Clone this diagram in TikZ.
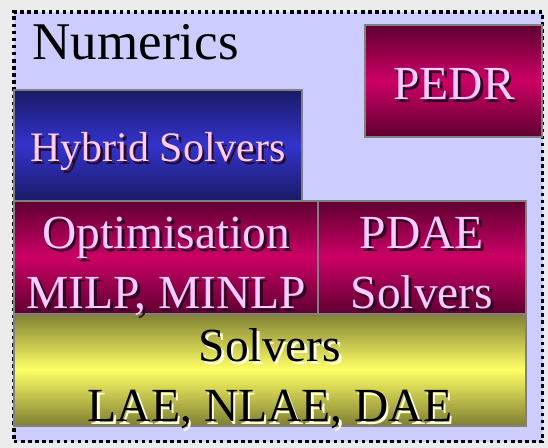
\documentclass[tikz,border=0pt]{standalone}
\usepackage{fontspec}
\setmainfont{Liberation Serif}
\newfontfamily\tms{Liberation Serif}
\definecolor{bgout}{HTML}{EBEBEB}
\definecolor{lav}{HTML}{CCCCFF}
\definecolor{edgegray}{HTML}{808080}
\definecolor{magdark}{HTML}{5E0030}
\definecolor{magmid}{HTML}{CC0066}
\definecolor{bluedark}{HTML}{1A1A66}
\definecolor{bluemid}{HTML}{3333CC}
\definecolor{yeldark}{HTML}{7F7F33}
\definecolor{yelmid}{HTML}{FFFF66}
\definecolor{pinktext}{HTML}{FFCCFF}
\definecolor{darkshadow}{HTML}{2A0A20}
\definecolor{lightshadow}{HTML}{FFFFE0}
\newcommand\shtxt[3]{\makebox[0pt][l]{\hspace*{2.5bp}\raisebox{-2.5bp}{\textcolor{#2}{#3}}}\textcolor{#1}{#3}}
\tikzset{
  box/.style={draw=edgegray, line width=2bp, inner sep=0pt, rectangle},
  magbox/.style={box, top color=magdark, bottom color=magdark, middle color=magmid},
  bluebox/.style={box, top color=bluedark, bottom color=bluedark, middle color=bluemid},
  yelbox/.style={box, top color=yeldark, bottom color=yeldark, middle color=yelmid},
  lbl/.style={anchor=base, inner sep=0pt, font=\tms\fontsize{47.5bp}{57bp}\selectfont},
  frame/.style={draw=black, fill=lav, line width=3.5bp, dash pattern=on 3.5bp off 3.6bp}
}
\begin{document}
\begin{tikzpicture}[x=1bp,y=-1bp]
\useasboundingbox[fill=bgout] (0,0) rectangle (548,448);
\node[frame, minimum width=528.5bp, minimum height=429.5bp, inner sep=0pt] (frame) at (278.25,226.75) {};
\node[bluebox, minimum width=287.5bp, minimum height=111bp] (hybrid) at (158.25,145.5) {};
\node[magbox, minimum width=177bp, minimum height=112bp] (pedr) at (453.5,81) {};
\node[magbox, minimum width=303.5bp, minimum height=112.5bp] (optim) at (166.25,257.25) {};
\node[magbox, minimum width=208bp, minimum height=112.5bp] (pdae) at (422,257.25) {};
\node[yelbox, minimum width=511.5bp, minimum height=112bp] (solvers) at (270.25,369.5) {};
\node[anchor=base west, inner sep=0pt, font=\tms\fontsize{53bp}{60bp}\selectfont] (numT) at (32.5,60) {Numerics};
\node[lbl] (pedrT) at (454,100) {\shtxt{pinktext}{darkshadow}{PEDR}};
\node[lbl, font=\tms\fontsize{42bp}{50bp}\selectfont] (hybT) at (158,161.7) {\shtxt{pinktext}{darkshadow}{Hybrid Solvers}};
\node[lbl] (optA) at (166.4,249) {\shtxt{pinktext}{darkshadow}{Optimisation}};
\node[lbl] (optB) at (166.4,308.5) {\shtxt{pinktext}{darkshadow}{MILP, MINLP}};
\node[lbl] (pdaeA) at (422,249) {\shtxt{pinktext}{darkshadow}{PDAE}};
\node[lbl] (pdaeB) at (422,308.5) {\shtxt{pinktext}{darkshadow}{Solvers}};
\node[lbl] (solA) at (270,361.7) {\shtxt{black}{lightshadow}{Solvers}};
\node[lbl] (solB) at (270,421.8) {\shtxt{black}{lightshadow}{LAE, NLAE, DAE}};
\end{tikzpicture}
\end{document}
